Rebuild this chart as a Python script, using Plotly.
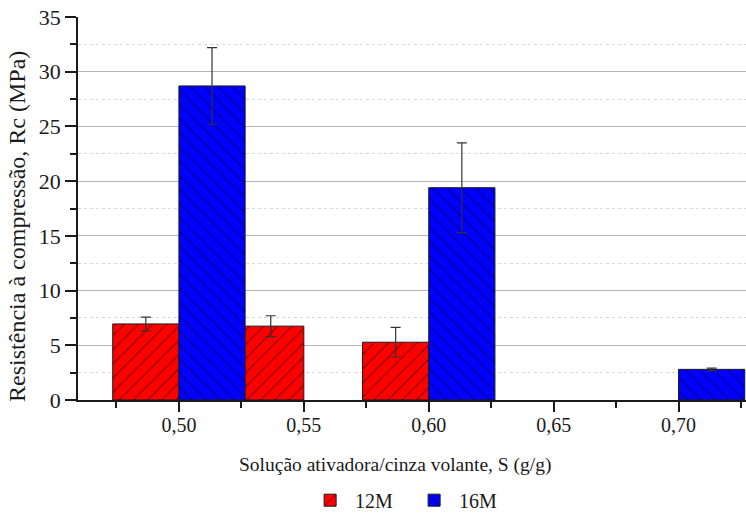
import plotly.graph_objects as go

# Activator-solution / fly-ash ratio and compressive strength (MPa)
x_12m = [0.50, 0.55, 0.60]
rc_12m = [6.95, 6.75, 5.28]
err_12m = [0.63, 0.95, 1.35]

x_16m = [0.50, 0.60, 0.70]
rc_16m = [28.7, 19.4, 2.8]
err_16m = [3.5, 4.1, 0.12]

series_names = ["12M", "16M"]
x_ticks = [0.50, 0.55, 0.60, 0.65, 0.70]
x_title = "Solução ativadora/cinza volante, S (g/g)"
y_title = "Resistência à compressão, Rc (MPa)"

BAR_W = 0.0265
FONT = "'Liberation Serif', Tinos, 'Times New Roman', Times, 'DejaVu Serif', serif"
INK = "#1a1a1a"

fig = go.Figure()

fig.add_trace(go.Bar(
    name=series_names[0], x=x_12m, y=rc_12m,
    width=BAR_W, offset=-BAR_W,
    marker=dict(color="#ff0000", line=dict(color=INK, width=1),
                pattern=dict(shape="/", fgcolor="#2a0000", bgcolor="#ff0000",
                             size=10, solidity=0.13)),
    error_y=dict(type="data", array=err_12m, color="#333333",
                 thickness=1.2, width=5),
))
fig.add_trace(go.Bar(
    name=series_names[1], x=x_16m, y=rc_16m,
    width=BAR_W, offset=0,
    marker=dict(color="#0000ff", line=dict(color=INK, width=1),
                pattern=dict(shape="\\", fgcolor="#00002a", bgcolor="#0000ff",
                             size=10, solidity=0.13)),
    error_y=dict(type="data", array=err_16m, color="#333333",
                 thickness=1.2, width=5),
))

fig.update_layout(
    width=746, height=513,
    margin=dict(l=78, r=0, t=17, b=113, autoexpand=False),
    paper_bgcolor="white", plot_bgcolor="white",
    barmode="overlay",
    separators=",.",
    font=dict(family=FONT, size=18, color=INK),
    showlegend=True,
    legend=dict(orientation="h", xref="container", x=0.409, xanchor="left",
                yref="container", y=0.025, yanchor="middle",
                font=dict(size=20, family=FONT, color=INK),
                traceorder="normal", itemwidth=40,
                entrywidth=49, entrywidthmode="pixels"),
)

# Axis titles placed as free text so their centres can sit off the plot centre
fig.add_annotation(text=x_title, xref="paper", yref="paper",
                   x=0.4746, y=-0.17, xanchor="center", yanchor="middle",
                   showarrow=False, font=dict(size=19.5, family=FONT, color=INK))
fig.add_annotation(text=y_title, xref="paper", yref="paper",
                   x=-0.0913, y=0.452, xanchor="center", yanchor="middle",
                   textangle=-90, showarrow=False,
                   font=dict(size=24, family=FONT, color=INK))

fig.update_xaxes(
    range=[0.4596, 0.727],
    tickvals=x_ticks, tickformat=".2f",
    ticks="outside", ticklen=10, tickwidth=1.5, tickcolor=INK,
    minor=dict(dtick=0.025, tick0=0.475, ticks="outside", ticklen=6,
               tickwidth=1.5, tickcolor=INK),
    showline=True, linecolor=INK, linewidth=1.8,
    showgrid=False, zeroline=False,
    ticklabelstandoff=-4,
    tickfont=dict(size=20, family=FONT, color=INK),
)

fig.update_yaxes(
    range=[0, 35], dtick=5, tick0=0,
    ticks="outside", ticklen=11, tickwidth=1.5, tickcolor=INK,
    minor=dict(dtick=2.5, ticks="outside", ticklen=6, tickwidth=1.5,
               tickcolor=INK, showgrid=True, gridcolor="#d8d8d8",
               griddash="dot", gridwidth=1),
    showline=True, linecolor=INK, linewidth=1.8,
    showgrid=True, gridcolor="#b4b4b4", gridwidth=1.2,
    zeroline=False,
    tickfont=dict(size=22, family=FONT, color=INK),
)

fig.write_html("out.html")
